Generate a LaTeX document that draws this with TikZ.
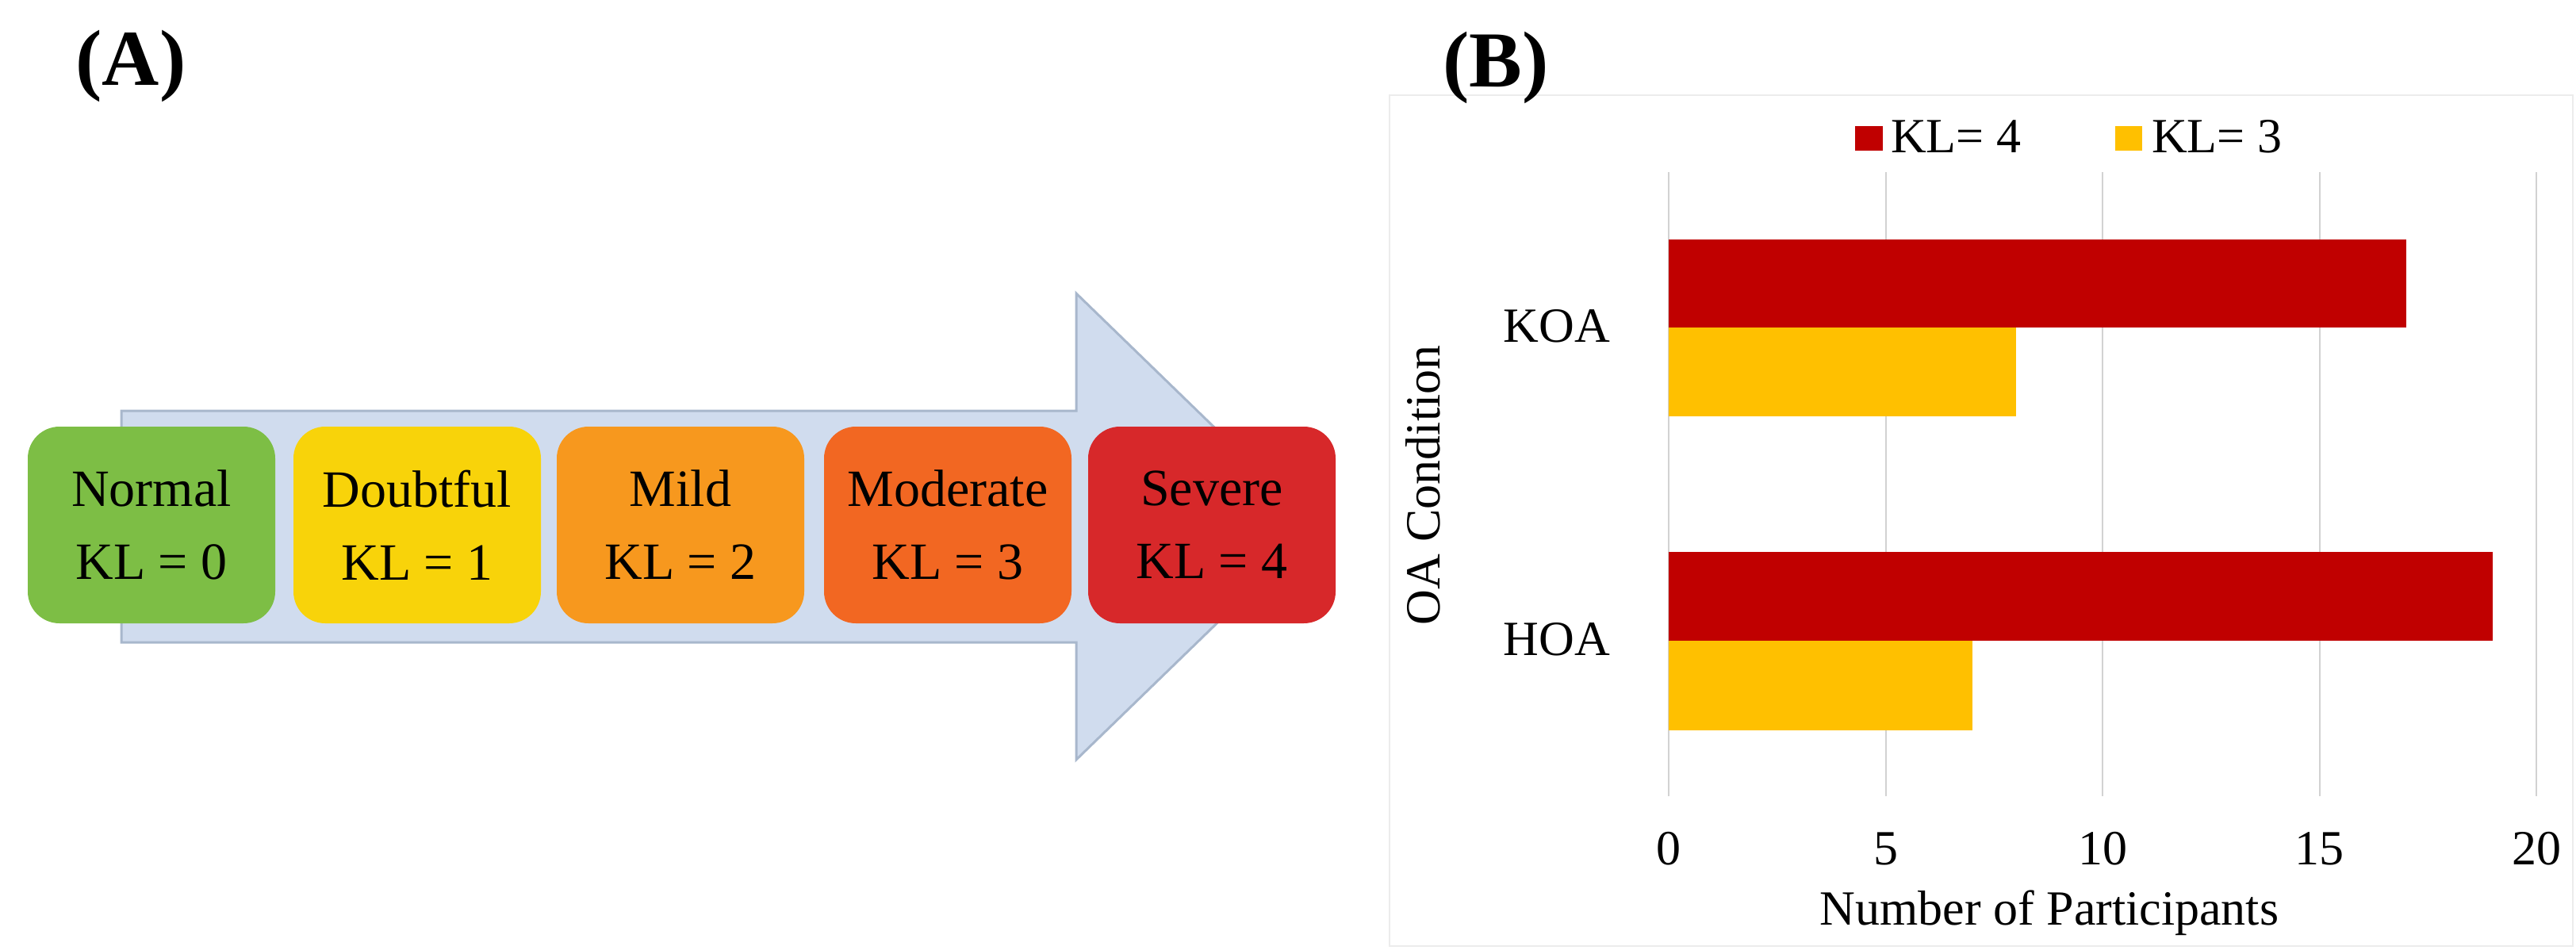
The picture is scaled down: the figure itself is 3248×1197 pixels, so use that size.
\documentclass[tikz,border=0pt]{standalone}
\usepackage{fontspec}
\setmainfont{Liberation Serif}
\definecolor{barred}{RGB}{192,0,0}
\definecolor{baryel}{RGB}{255,192,0}
\definecolor{arrfill}{RGB}{208,220,238}
\definecolor{arrdraw}{RGB}{168,183,204}
\definecolor{cgreen}{RGB}{125,190,69}
\definecolor{cyel}{RGB}{248,211,10}
\definecolor{corange}{RGB}{247,152,30}
\definecolor{cdorange}{RGB}{242,103,34}
\definecolor{cred}{RGB}{215,40,42}
\begin{document}
\begin{tikzpicture}[x=1pt,y=-1pt,
  stage/.style={rounded corners=40pt,minimum width=312pt,minimum height=248pt,inner sep=0pt,align=center,font=\fontsize{66}{92}\selectfont},
  grid/.style={draw=gray!35,line width=2pt},
  lab/.style={font=\fontsize{62}{70}\selectfont}]
\useasboundingbox (0,0) rectangle (3248,1197);
% Panel A
\node[font=\bfseries\fontsize{100}{100}\selectfont] (la) at (165,83) {(A)};
\filldraw[fill=arrfill,draw=arrdraw,line width=3pt]
  (153,518) -- (1357,518) -- (1357,370) -- (1660,664) -- (1357,958) -- (1357,810) -- (153,810) -- cycle;
\node[stage,fill=cgreen] (s0) at (191,662) {Normal\\KL = 0};
\node[stage,fill=cyel] (s1) at (526,662) {Doubtful\\KL = 1};
\node[stage,fill=corange] (s2) at (858,662) {Mild\\KL = 2};
\node[stage,fill=cdorange] (s3) at (1195,662) {Moderate\\KL = 3};
\node[stage,fill=cred] (s4) at (1528,662) {Severe\\KL = 4};
% Panel B
\draw[gray!15,line width=2pt] (1752,120) rectangle (3244,1193);
\node[font=\bfseries\fontsize{100}{100}\selectfont] (lb) at (1886,85) {(B)};
\foreach \v in {0,5,10,15,20}{
  \draw[grid] ({2104+54.7*\v},217) -- ({2104+54.7*\v},1004);
  \node[lab] (t\v) at ({2104+54.7*\v},1070) {\v};
}
\fill[barred] (2104,302) rectangle ({2104+54.7*17},413);
\fill[baryel] (2104,413) rectangle ({2104+54.7*8},525);
\fill[barred] (2104,696) rectangle ({2104+54.7*19},808);
\fill[baryel] (2104,808) rectangle ({2104+54.7*7},921);
\node[lab] (koa) at (1963,411) {KOA};
\node[lab] (hoa) at (1963,806) {HOA};
\node[lab] (xt) at (2584,1151) {Number of Participants};
\node[lab,rotate=90] (yt) at (1794,612) {OA Condition};
\fill[barred] (2339,159) rectangle (2374,190);
\node[lab,anchor=west,inner sep=0pt] (l4) at (2384,172) {KL= 4};
\fill[baryel] (2667,159) rectangle (2701,190);
\node[lab,anchor=west,inner sep=0pt] (l3) at (2713,172) {KL= 3};
\end{tikzpicture}
\end{document}
